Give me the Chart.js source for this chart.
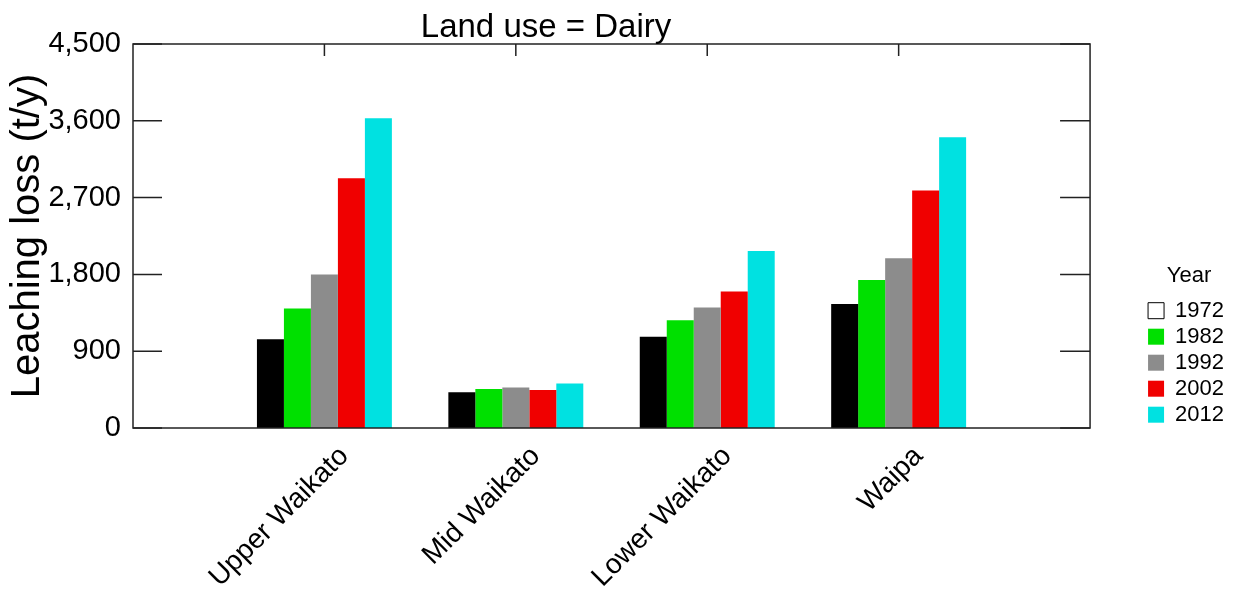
<!DOCTYPE html>
<html>
<head>
<meta charset="utf-8">
<script src="https://cdn.jsdelivr.net/npm/chart.js@4"></script>
<style>
html, body { margin: 0; padding: 0; background: #fff; }
</style>
</head>
<body>
<canvas id="myChart" width="1240" height="595"></canvas>
<script>
// data
const categories = ['Upper Waikato', 'Mid Waikato', 'Lower Waikato', 'Waipa'];
const years = ['1972', '1982', '1992', '2002', '2012'];
const loss1972 = [1041, 419, 1068, 1452];
const loss1982 = [1401, 458, 1264, 1734];
const loss1992 = [1800, 474, 1413, 1988];
const loss2002 = [2927, 446, 1601, 2782];
const loss2012 = [3631, 521, 2074, 3408];
const yTicks = [0, 900, 1800, 2700, 3600, 4500];

const colors = ['#000000', '#00e000', '#8c8c8c', '#f00000', '#00e1e1'];
const FONT = "'Liberation Sans', Arial, sans-serif";

// empty slot either side so groups sit at 1..4 on a 0..5 axis
const labels = ['', ...categories, ''];
const pad = arr => [null, ...arr, null];

const series = [loss1972, loss1982, loss1992, loss2002, loss2012];
const data = {
  labels: labels,
  datasets: series.map((s, i) => ({
    label: years[i],
    data: pad(s),
    backgroundColor: colors[i],
    borderWidth: 0,
    categoryPercentage: 0.705,
    barPercentage: 1.0
  }))
};

// box frame with inward ticks, plus the title
const framePlugin = {
  id: 'frame',
  beforeDatasetsDraw(chart) {
    const {ctx, chartArea: a, scales: {x}} = chart;
    ctx.save();
    ctx.strokeStyle = '#222';
    ctx.lineWidth = 1.5;
    ctx.beginPath();
    categories.forEach((c, i) => {
      const px = x.getPixelForValue(i + 1);
      ctx.moveTo(px, a.bottom);
      ctx.lineTo(px, a.bottom - 12);
    });
    ctx.stroke();
    ctx.restore();
  },
  afterDatasetsDraw(chart) {
    const {ctx, chartArea: a, scales: {x, y}} = chart;
    ctx.save();
    ctx.strokeStyle = '#222';
    ctx.lineWidth = 1.5;
    ctx.strokeRect(a.left, a.top, a.right - a.left, a.bottom - a.top);
    ctx.beginPath();
    yTicks.forEach(v => {
      const py = y.getPixelForValue(v);
      ctx.moveTo(a.left, py); ctx.lineTo(a.left + 29, py);
      ctx.moveTo(a.right, py); ctx.lineTo(a.right - 30, py);
    });
    categories.forEach((c, i) => {
      const px = x.getPixelForValue(i + 1);
      ctx.moveTo(px, a.top); ctx.lineTo(px, a.top + 12);
    });
    ctx.stroke();
    ctx.restore();
  },
  afterDraw(chart) {
    const {ctx} = chart;
    ctx.save();
    ctx.fillStyle = '#000';
    ctx.font = '33px ' + FONT;
    ctx.textAlign = 'center';
    ctx.textBaseline = 'alphabetic';
    ctx.fillText('Land use = Dairy', 546, 37);
    ctx.restore();
  }
};

const config = {
  type: 'bar',
  data: data,
  options: {
    responsive: false,
    animation: false,
    devicePixelRatio: 1,
    layout: { padding: { top: 44, left: 8, right: 6, bottom: 0 } },
    scales: {
      x: {
        offset: false,
        grid: { display: false, drawTicks: false },
        border: { display: false },
        afterFit: s => { s.height = 167; },
        ticks: {
          autoSkip: false,
          maxRotation: 45,
          minRotation: 45,
          padding: 12,
          labelOffset: 20,
          color: '#000',
          font: { family: FONT, size: 28 }
        }
      },
      y: {
        min: 0,
        max: 4500,
        afterBuildTicks: s => { s.ticks = yTicks.map(v => ({value: v})); },
        afterFit: s => { s.width = 125; },
        grid: { display: false, drawTicks: false },
        border: { display: false },
        ticks: {
          padding: 12,
          color: '#000',
          font: { family: FONT, size: 29 },
          callback: v => v.toLocaleString('en-US')
        },
        title: {
          display: true,
          text: 'Leaching loss (t/y)',
          color: '#000',
          padding: 0,
          font: { family: FONT, size: 40, lineHeight: 1 }
        }
      },
      yRight: {
        type: 'linear',
        position: 'right',
        grid: { display: false, drawTicks: false },
        border: { display: false },
        ticks: { display: false },
        afterFit: s => { s.width = 54; }
      }
    },
    plugins: {
      title: { display: false },
      tooltip: { enabled: false },
      legend: {
        position: 'right',
        align: 'center',
        title: {
          display: true,
          text: 'Year',
          color: '#000',
          padding: { top: 56, bottom: 4 },
          font: { family: FONT, size: 22 }
        },
        labels: {
          boxWidth: 16,
          boxHeight: 16,
          padding: 4,
          color: '#000',
          font: { family: FONT, size: 22 },
          generateLabels(chart) {
            const items = Chart.defaults.plugins.legend.labels.generateLabels(chart);
            items[0].fillStyle = '#ffffff';
            items[0].strokeStyle = '#000000';
            items[0].lineWidth = 1;
            return items;
          }
        }
      }
    }
  },
  plugins: [framePlugin]
};

const myChart = new Chart(document.getElementById('myChart'), config);
</script>
</body>
</html>
